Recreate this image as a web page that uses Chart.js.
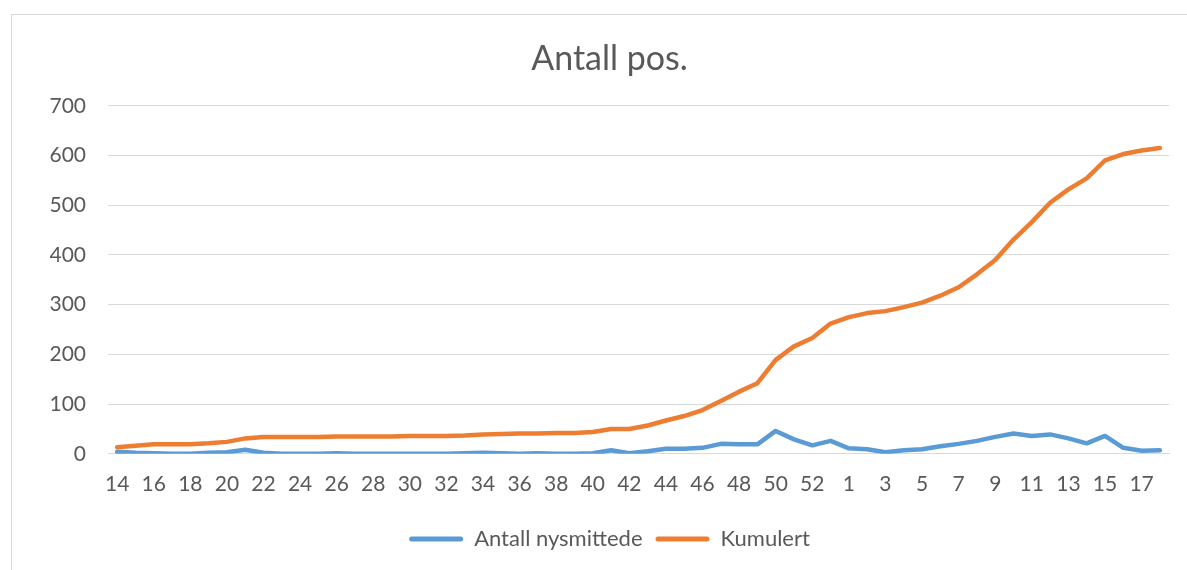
<!DOCTYPE html>
<html>
<head>
<meta charset="utf-8">
<script src="https://cdn.jsdelivr.net/npm/chart.js@4"></script>
<style>
  html, body { margin: 0; padding: 0; background: #ffffff; overflow: hidden; }
  #frame { position: absolute; left: 11px; top: 14px; width: 1300px; height: 700px; border: 1px solid #d9d9d9; box-sizing: border-box; }
  #wrap { position: absolute; left: 0; top: 0; width: 1187px; height: 570px; }
</style>
</head>
<body>
<div id="frame"></div>
<div id="wrap"><canvas id="c" width="1187" height="570"></canvas></div>
<script>
const weeks = ["14","15","16","17","18","19","20","21","22","23","24","25","26","27","28","29","30","31","32","33","34","35","36","37","38","39","40","41","42","43","44","45","46","47","48","49","50","51","52","53","1","2","3","4","5","6","7","8","9","10","11","12","13","14","15","16","17","18"];
const nysmittede = [4,2,1,0,0,2,3,8,2,0,0,0,1,0,0,0,0,0,0,1,2,1,0,1,0,0,1,7,1,5,10,10,12,20,19,19,46,29,17,26,11,9,3,7,9,15,20,26,34,41,36,39,31,21,36,12,6,7];
const kumulert = [13,16,19,19,19,21,24,31,34,34,34,34,35,35,35,35,36,36,36,37,39,40,41,41,42,42,44,50,50,57,67,76,88,106,125,142,189,216,233,262,275,283,287,295,304,318,335,361,390,431,466,505,532,554,590,603,610,615];
const yTicks = [0,100,200,300,400,500,600,700];
const titleText = "Antall pos.";
const seriesNames = ["Antall nysmittede", "Kumulert"];

const FONT = "Lato, 'Open Sans', sans-serif";
const TXT = "#595959";

new Chart(document.getElementById("c"), {
  type: "line",
  data: {
    labels: weeks,
    datasets: [
      { label: seriesNames[0], data: nysmittede, borderColor: "#5B9BD5", backgroundColor: "#5B9BD5", borderWidth: 4.5, pointRadius: 0, tension: 0, borderCapStyle: "round", borderJoinStyle: "round", fill: false },
      { label: seriesNames[1], data: kumulert, borderColor: "#ED7D31", backgroundColor: "#ED7D31", borderWidth: 4.5, pointRadius: 0, tension: 0, borderCapStyle: "round", borderJoinStyle: "round", fill: false }
    ]
  },
  options: {
    responsive: false,
    animation: false,
    devicePixelRatio: 1,
    layout: { padding: { left: 50, right: 18, top: 0, bottom: 10 } },
    plugins: {
      tooltip: { enabled: false },
      title: {
        display: true, text: titleText, color: TXT,
        font: { family: FONT, size: 34, weight: "normal" },
        padding: { top: 39, bottom: 26 }
      },
      legend: {
        position: "bottom",
        labels: {
          color: TXT,
          font: { family: FONT, size: 22 },
          boxWidth: 54, boxHeight: 5,
          useBorderRadius: true, borderRadius: 2.5,
          padding: 13,
          generateLabels(chart) {
            return Chart.defaults.plugins.legend.labels.generateLabels(chart).map(l => Object.assign(l, { lineWidth: 0 }));
          }
        }
      }
    },
    scales: {
      x: {
        offset: true,
        grid: { display: false, drawTicks: false },
        border: { display: true, color: "#d9d9d9", width: 1 },
        ticks: {
          color: TXT, font: { family: FONT, size: 21 }, padding: 18,
          autoSkip: false, maxRotation: 0, minRotation: 0,
          callback: (v, i) => (i % 2 === 0 ? weeks[i] : "")
        }
      },
      y: {
        min: 0, max: 700,
        afterBuildTicks: s => { s.ticks = yTicks.map(v => ({ value: v })); },
        afterFit: s => { s.width = 58; },
        grid: { color: "#d9d9d9", lineWidth: 1, drawTicks: false },
        border: { display: false },
        ticks: { color: TXT, font: { family: FONT, size: 21 }, padding: 22 }
      }
    }
  }
});
</script>
</body>
</html>
